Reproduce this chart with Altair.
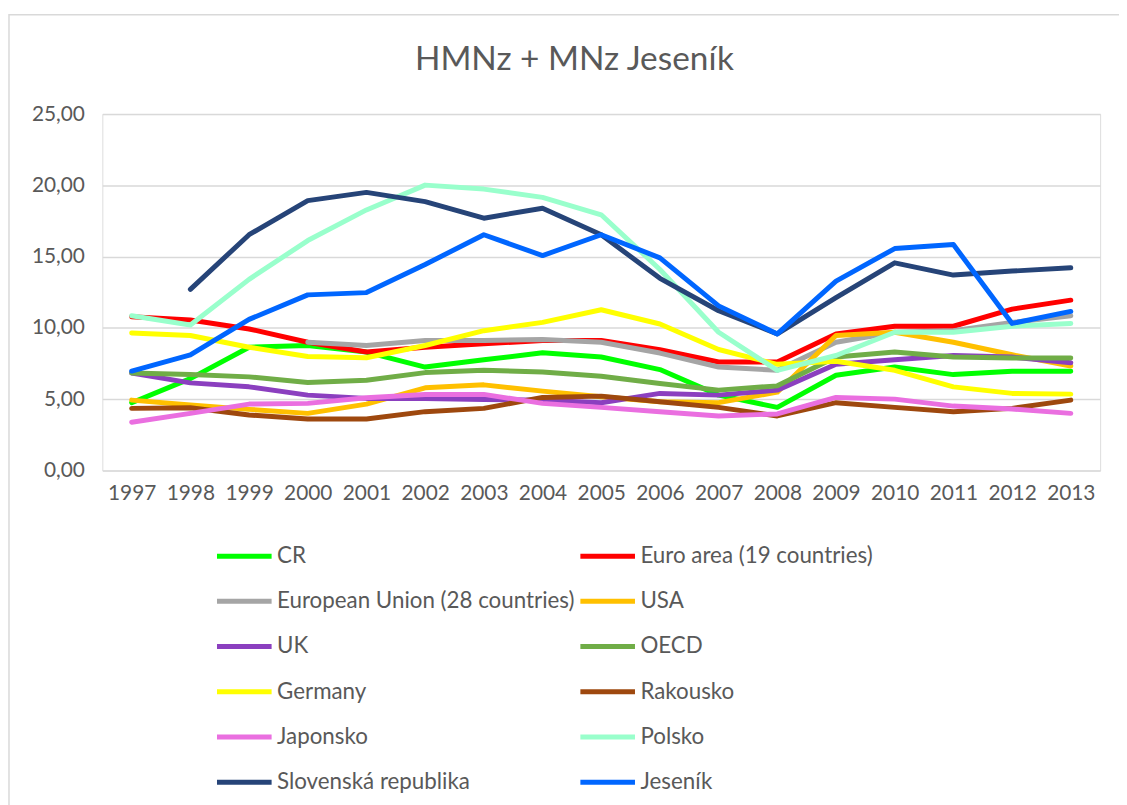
import altair as alt
import pandas as pd

years = [str(y) for y in range(1997, 2014)]

series_names = [
    "CR", "Euro area (19 countries)", "European Union (28 countries)", "USA",
    "UK", "OECD", "Germany", "Rakousko", "Japonsko", "Polsko",
    "Slovenská republika", "Jeseník",
]
series_colors = [
    "#00FF00", "#FF0000", "#A5A5A5", "#FFC000",
    "#8B3FBF", "#70AD47", "#FFFF00", "#9E480E", "#EA6FE0", "#99FFCC",
    "#264478", "#0066FF",
]

cr = [4.76, 6.45, 8.65, 8.77, 8.31, 7.26, 7.77, 8.26, 7.96, 7.08, 5.29, 4.43, 6.68, 7.26, 6.73, 6.96, 6.96]
euro = [10.79, 10.56, 9.93, 9.00, 8.31, 8.65, 8.89, 9.12, 9.12, 8.47, 7.61, 7.61, 9.58, 10.12, 10.12, 11.32, 11.95]
eu28 = [None, None, None, 9.00, 8.77, 9.12, 9.12, 9.19, 9.00, 8.24, 7.26, 7.03, 9.00, 9.70, 9.81, 10.39, 10.86]
usa = [4.94, 4.59, 4.29, 4.01, 4.66, 5.80, 6.01, 5.57, 5.17, 4.83, 4.76, 5.50, 9.47, 9.70, 9.00, 8.12, 7.33]
uk = [6.84, 6.15, 5.87, 5.29, 5.06, 5.06, 4.99, 4.94, 4.76, 5.41, 5.29, 5.64, 7.45, 7.77, 8.07, 7.96, 7.56]
oecd = [6.84, 6.73, 6.57, 6.17, 6.33, 6.87, 7.03, 6.91, 6.61, 6.10, 5.64, 5.94, 7.96, 8.31, 7.96, 7.89, 7.89]
germany = [9.65, 9.47, 8.65, 8.00, 7.91, 8.77, 9.81, 10.39, 11.28, 10.28, 8.49, 7.45, 7.66, 7.03, 5.87, 5.41, 5.36]
rakousko = [4.36, 4.41, 3.90, 3.62, 3.62, 4.13, 4.36, 5.13, 5.22, 4.83, 4.43, 3.83, 4.76, 4.43, 4.13, 4.36, 4.94]
japonsko = [3.39, 4.01, 4.66, 4.71, 5.10, 5.34, 5.34, 4.71, 4.43, 4.13, 3.83, 3.97, 5.13, 5.01, 4.52, 4.32, 4.01]
polsko = [10.86, 10.21, 13.41, 16.13, 18.28, 20.02, 19.74, 19.16, 17.94, 14.10, 9.70, 7.03, 8.07, 9.70, 9.70, 10.12, 10.32]
slovensko = [None, 12.71, 16.54, 18.93, 19.51, 18.86, 17.70, 18.40, 16.54, 13.48, 11.21, 9.58, 12.13, 14.57, 13.71, 13.99, 14.22]
jesenik = [6.98, 8.12, 10.60, 12.32, 12.48, 14.45, 16.54, 15.08, 16.54, 14.92, 11.55, 9.58, 13.29, 15.57, 15.85, 10.32, 11.16]

y_ticks = [0, 5, 10, 15, 20, 25]

all_values = [cr, euro, eu28, usa, uk, oecd, germany, rakousko, japonsko, polsko, slovensko, jesenik]
rows = []
for idx, (name, vals) in enumerate(zip(series_names, all_values)):
    for yr, v in zip(years, vals):
        if v is not None:
            rows.append({"series": name, "order": idx, "year": yr, "value": v})
df = pd.DataFrame(rows)

# legend fills column by column: reorder so it reads row by row like the reference
legend_order = series_names[0::2] + series_names[1::2]
legend_colors = [series_colors[series_names.index(n)] for n in legend_order]

FONT = "Lato"
TXT = "#595959"

frame = alt.Chart(pd.DataFrame({"a": [0]})).mark_rect(
    fill="transparent", stroke="#D9D9D9", strokeWidth=1.5
).encode(
    x=alt.value(-94), x2=alt.value(1030), y=alt.value(-100), y2=alt.value(700)
)

lines = alt.Chart(df).mark_line(strokeWidth=5, strokeCap="round", strokeJoin="round").encode(
    x=alt.X("year:O", sort=years, title=None,
            axis=alt.Axis(labelAngle=0, domain=False, ticks=False, labelPadding=12,
                          labelFontSize=21, labelColor=TXT, labelFont=FONT)),
    y=alt.Y("value:Q", title=None,
            scale=alt.Scale(domain=[0, 25], nice=False),
            axis=alt.Axis(values=y_ticks, domain=False, ticks=False, labelPadding=18,
                          labelExpr="replace(format(datum.value, '.2f'), '.', ',')",
                          labelFontSize=21, labelColor=TXT, labelFont=FONT,
                          gridColor="#D9D9D9", gridWidth=1.5)),
    color=alt.Color("series:N", sort=legend_order,
                    scale=alt.Scale(domain=legend_order, range=legend_colors),
                    legend=alt.Legend(
                        title=None, orient="none", legendX=113, legendY=415,
                        columns=2, columnPadding=-5, rowPadding=3.6,
                        symbolType="stroke", symbolSize=3025, symbolStrokeWidth=5,
                        labelFont=FONT, labelFontSize=22.5, labelColor=TXT,
                        labelOffset=3, labelLimit=500,
                    )),
    detail="order:O",
    order=alt.Order("year:O"),
)

chart = alt.layer(frame, lines).properties(
    width=1005, height=359,
    title=alt.TitleParams("HMNz + MNz Jeseník", font=FONT, fontSize=33.6, fontWeight="normal",
                          color=TXT, anchor="middle", dx=-27, offset=-63),
    autosize=alt.AutoSizeParams(type="none"),
    padding={"left": 95, "top": 104, "right": 19, "bottom": 334},
).configure_view(stroke=None).configure(background="white")

chart.save("out.html", embed_options={"renderer": "svg", "actions": False})
